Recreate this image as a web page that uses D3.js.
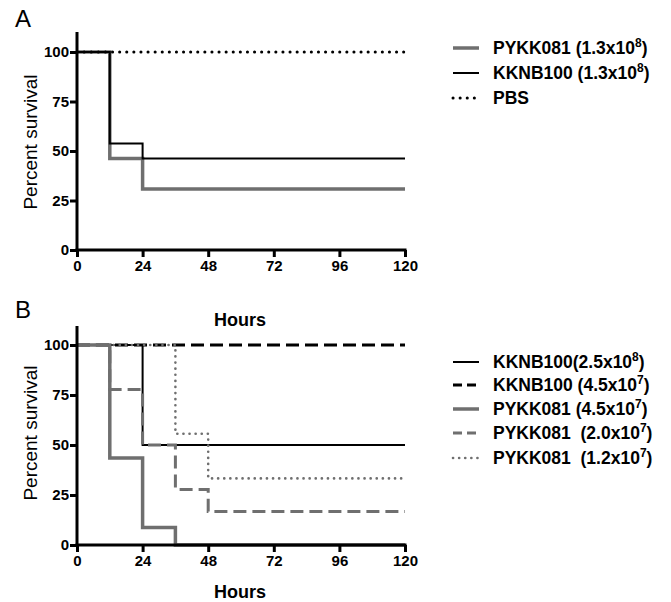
<!DOCTYPE html>
<meta charset="utf-8">
<style>
    body { margin: 0; background: #fff; }
    text { font-family: "Liberation Sans", Arial, sans-serif; }
</style>
<script src="https://d3js.org/d3.v7.min.js"></script>
<body>
<script>
    var xTicks = [0, 24, 48, 72, 96, 120];
    var yTicks = [0, 25, 50, 75, 100];

    // panel A series: [hour, percent] step points
    var aPykk = [[0, 100], [12, 46.2], [24, 30.8], [120, 30.8]];
    var aKknb = [[0, 100], [12, 53.8], [24, 46.2], [120, 46.2]];
    var aPbs = [[0, 100], [120, 100]];

    // panel B series
    var bKknbHigh = [[0, 100], [24, 50], [120, 50]];
    var bKknbLow = [[0, 100], [120, 100]];
    var bPykkHigh = [[0, 100], [12, 43.5], [24, 8.7], [36, 0], [120, 0]];
    var bPykkMid = [[0, 100], [12, 77.8], [24, 50], [36, 27.8], [48, 16.7], [120, 16.7]];
    var bPykkLow = [[0, 100], [36, 55.6], [48, 33.3], [120, 33.3]];

    var aLabels = [["PYKK081 (1.3x10", "8", ")"], ["KKNB100 (1.3x10", "8", ")"], ["PBS"]];
    var bLabels = [["KKNB100(2.5x10", "8", ")"], ["KKNB100 (4.5x10", "7", ")"],
        ["PYKK081 (4.5x10", "7", ")"], ["PYKK081  (2.0x10", "7", ")"], ["PYKK081  (1.2x10", "7", ")"]];

    var GRAY = "#6f6f6f";
    var styles = {
        grayThick: { stroke: GRAY, width: 3.5, dash: null, legDash: null },
        blackThin: { stroke: "#000", width: 2, dash: null, legDash: null },
        blackDot: { stroke: "#000", width: 3, dash: "0.1,7", legDash: "0.1,7", cap: "round" },
        blackDash: { stroke: "#000", width: 3, dash: "13,6", legDash: "9,5" },
        grayDash: { stroke: GRAY, width: 3, dash: "13,6", legDash: "9,5" },
        grayDot: { stroke: GRAY, width: 2.6, dash: "0.1,6", legDash: "0.1,6", cap: "round" }
    };

    var svg = d3.select("body").append("svg")
        .attr("width", 671)
        .attr("height", 602);

    var x = d3.scaleLinear().domain([0, 120]).range([77, 405]);

    var line = function(y) {
        return d3.line().x(d => x(d[0])).y(d => y(d[1])).curve(d3.curveStepAfter);
    };

    function styleAxis(axis) {
        axis.attr("font-family", null).attr("font-size", null);
        axis.selectAll("path, line").attr("stroke", "#000").attr("stroke-width", 3);
        axis.selectAll(".tick text")
            .attr("font-size", 15)
            .attr("font-weight", "bold")
            .attr("fill", "#000");
    }

    function panel(yTop, yBottom, axisTop, series, labels, legendY, letter, letterY, yLabelY) {
        var y = d3.scaleLinear().domain([0, 100]).range([yBottom, yTop]);
        var g = svg.append("g");

        series.forEach(function(s) {
            var st = styles[s.style];
            g.append("path")
                .attr("d", line(y)(s.data))
                .attr("fill", "none")
                .attr("stroke", st.stroke)
                .attr("stroke-width", st.width)
                .attr("stroke-dasharray", st.dash)
                .attr("stroke-linecap", st.cap || "butt");
        });

        var yAxis = g.append("g")
            .attr("transform", "translate(" + x(0) + ",0)")
            .call(d3.axisLeft(y).tickValues(yTicks).tickSize(7).tickSizeOuter(0).tickPadding(1));
        yAxis.select(".domain").attr("d", "M0," + (yBottom + 1.5) + "V" + axisTop);
        styleAxis(yAxis);

        var xAxis = g.append("g")
            .attr("transform", "translate(0," + yBottom + ")")
            .call(d3.axisBottom(x).tickValues(xTicks).tickSize(7).tickSizeOuter(0).tickPadding(3));
        xAxis.select(".domain").attr("d", "M" + (x(0) - 1.5) + ",0H" + (x(120) + 1.5));
        styleAxis(xAxis);

        g.append("text").attr("x", 15).attr("y", letterY)
            .attr("font-size", 24).text(letter);

        g.append("text")
            .attr("transform", "translate(37," + yLabelY + ") rotate(-90)")
            .attr("text-anchor", "middle").attr("font-size", 19)
            .text("Percent survival");

        var lg = g.append("g");
        series.forEach(function(s, i) {
            var st = styles[s.style];
            var ly = legendY[i];
            lg.append("line")
                .attr("x1", 453).attr("x2", 479).attr("y1", ly).attr("y2", ly)
                .attr("stroke", st.stroke)
                .attr("stroke-width", st.width)
                .attr("stroke-dasharray", st.legDash)
                .attr("stroke-linecap", st.cap || "butt");
            var t = lg.append("text").attr("x", 493).attr("y", ly + 6)
                .attr("font-size", 17.5).attr("font-weight", "bold")
                .attr("xml:space", "preserve");
            var parts = labels[i];
            t.append("tspan").text(parts[0]);
            if (parts.length > 1) {
                t.append("tspan").attr("dy", -7).attr("font-size", 12).text(parts[1]);
                t.append("tspan").attr("dy", 7).text(parts[2]);
            }
        });
        return g;
    }

    panel(52, 250, 32,
        [{ data: aPykk, style: "grayThick" }, { data: aKknb, style: "blackThin" }, { data: aPbs, style: "blackDot" }],
        aLabels, [48, 73, 98], "A", 27, 142);

    panel(345, 545, 326,
        [{ data: bKknbHigh, style: "blackThin" }, { data: bKknbLow, style: "blackDash" },
         { data: bPykkHigh, style: "grayThick" }, { data: bPykkMid, style: "grayDash" },
         { data: bPykkLow, style: "grayDot" }],
        bLabels, [362, 385, 409, 433, 458], "B", 318, 433);

    svg.append("text").attr("x", 240).attr("y", 326)
        .attr("text-anchor", "middle").attr("font-size", 18).attr("font-weight", "bold")
        .text("Hours");
    svg.append("text").attr("x", 240).attr("y", 598)
        .attr("text-anchor", "middle").attr("font-size", 18).attr("font-weight", "bold")
        .text("Hours");
</script>
